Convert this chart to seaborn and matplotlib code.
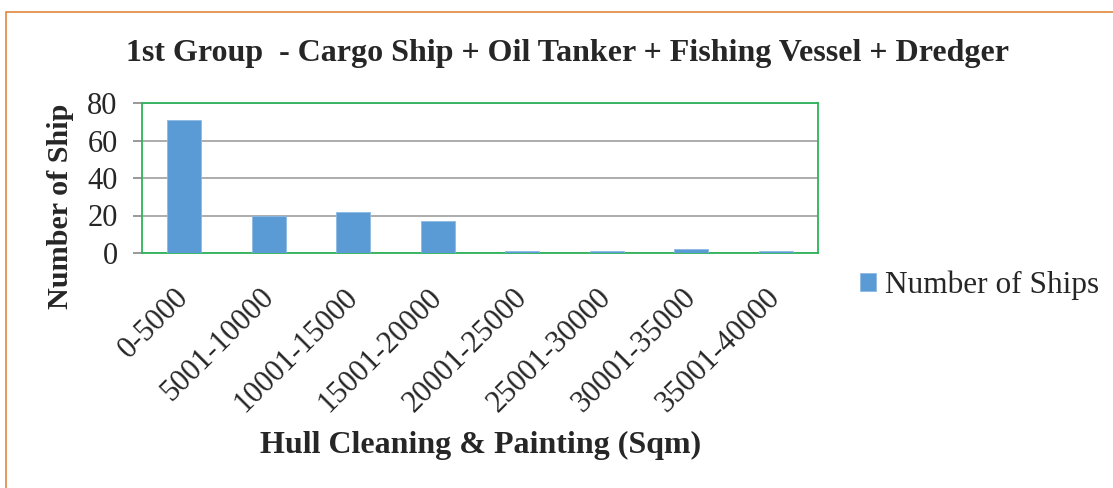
import pandas as pd
import matplotlib.pyplot as plt
import matplotlib.transforms as mtransforms
import seaborn as sns
from matplotlib.patches import Rectangle

# Data
ranges = ['0-5000', '5001-10000', '10001-15000', '15001-20000',
          '20001-25000', '25001-30000', '30001-35000', '35001-40000']
ships = [71, 20, 22, 17, 1, 1, 2, 1]
series_name = 'Number of Ships'

df = pd.DataFrame({'range': ranges, 'ships': ships, 'series': series_name})

sns.set_style('white')
plt.rcParams['font.family'] = ['Liberation Serif', 'DejaVu Serif']

fig = plt.figure(figsize=(11.13, 4.88), dpi=100)
ax = fig.add_axes([142 / 1113, 1 - 253 / 488, 676 / 1113, 150 / 488])

sns.barplot(data=df, x='range', y='ships', hue='series', palette=['#5B9BD5'],
            saturation=1, width=0.4, ax=ax, zorder=3, edgecolor='#8DB9E2', linewidth=0.6)

ax.set_ylim(0, 80)
ax.set_yticks([0, 20, 40, 60, 80])
ax.yaxis.grid(True, color='#A6A6A6', linewidth=1.3, zorder=0)
ax.tick_params(axis='y', labelsize=22, length=6.5, width=1.2, color='#888888',
               direction='out', left=True, pad=11)
ax.tick_params(axis='x', labelsize=22, length=0, pad=21.5)
# nudge the slanted category labels left, like the original
offset = mtransforms.ScaledTranslation(-10 / 100, 0, fig.dpi_scale_trans)
for lab in ax.get_xticklabels():
    lab.set_rotation(45)
    lab.set_ha('right')
    lab.set_rotation_mode('anchor')
    lab.set_transform(lab.get_transform() + offset)

for s in ax.spines.values():
    s.set_color('#2DB45A')
    s.set_linewidth(1.3)

ax.set_ylabel('')
ax.set_xlabel('')
fig.text(60 / 1113, 1 - 206 / 488, 'Number of Ship', rotation=90, ha='center', va='center',
         fontsize=21.7, fontweight='bold')
fig.text(481 / 1113, 1 - 445 / 488, 'Hull Cleaning & Painting (Sqm)', ha='center', va='center',
         fontsize=23, fontweight='bold')
fig.text(568 / 1113, 1 - 53 / 488, '1st Group  - Cargo Ship + Oil Tanker + Fishing Vessel + Dredger',
         ha='center', va='center', fontsize=23, fontweight='bold')

ax.legend(loc='center left', bbox_to_anchor=(860 / 1113, 1 - 285 / 488),
          bbox_transform=fig.transFigure, frameon=False, fontsize=22.5,
          handlelength=0.5, handleheight=0.5, handletextpad=0.29, borderpad=0,
          borderaxespad=0)

fig.patches.append(Rectangle((6 / 1113, -0.1), 2, 1 - 12 / 488 + 0.1, transform=fig.transFigure,
                             fill=False, edgecolor='#E2863F', linewidth=1.2))

fig.savefig('out.png', dpi=100)
